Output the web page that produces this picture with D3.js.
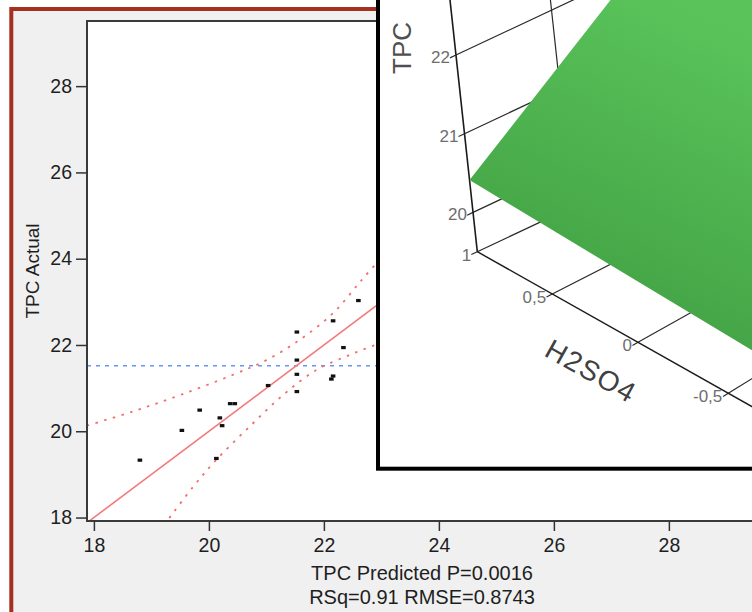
<!DOCTYPE html>
<html>
<head>
<meta charset="utf-8">
<script src="https://cdn.jsdelivr.net/npm/d3@7"></script>
<style>
  body { margin: 0; background: #fff; }
  text { font-family: "Liberation Sans", Arial, sans-serif; }
</style>
</head>
<body>
<script>
// 实际值 vs 预测值
const predicted = [18.80, 19.53, 19.84, 20.13, 20.19, 20.23, 20.37, 20.45, 21.03,
                   21.53, 21.53, 21.53, 21.53, 22.16, 22.34, 22.13, 22.16, 22.60];
const actual    = [19.33, 20.02, 20.49, 19.37, 20.31, 20.13, 20.64, 20.64, 21.06,
                   22.30, 21.65, 21.32, 20.92, 22.56, 21.94, 21.21, 21.28, 23.03];
const meanActual = 21.52;

// 置信曲线（读图取点）
const upperPred = [17.88, 18.68, 19.50, 20.42, 21.00, 21.58, 22.16, 22.66, 23.05];
const upperAct  = [20.13, 20.46, 20.84, 21.31, 21.65, 22.12, 22.74, 23.51, 24.10];
const lowerPred = [19.22, 19.29, 19.73, 20.13, 20.71, 21.29, 21.87, 22.45, 22.89, 23.05];
const lowerAct  = [17.82, 17.95, 18.72, 19.34, 20.11, 20.84, 21.42, 21.77, 22.00, 22.08];

const xTicks = [18, 20, 22, 24, 26, 28];
const yTicks = [18, 20, 22, 24, 26, 28];
const xTitle = 'TPC Predicted P=0.0016';
const statsLine = 'RSq=0.91 RMSE=0.8743';
const yTitle = 'TPC Actual';

// 三维曲面插图
const tpcTicks = [20, 21, 22];
const h2so4Ticks = [1, 0.5, 0, -0.5];
const h2so4Labels = ['1', '0,5', '0', '-0,5'];
const depthGrid = [0.048];
const surfaceH = [1, -0.7, -0.7, 1];
const surfaceDepth = [0, 0, 0.2, 0.2];
const surfaceTPC = [20.41, 20.26, 23.85, 24.0];

const width = 752;
const height = 612;
const plot = {left: 87, top: 21, right: 758, bottom: 521};

const svg = d3.select('body').append('svg')
    .attr('width', width)
    .attr('height', height);

// 外框
svg.append('rect')
    .attr('x', 11.3).attr('y', 9)
    .attr('width', 800).attr('height', 700)
    .attr('fill', '#f0f0f0')
    .attr('stroke', '#a5301f')
    .attr('stroke-width', 4);

const x = d3.scaleLinear().domain([17.88, 29.55]).range([plot.left, plot.right]);
const y = d3.scaleLinear().domain([17.92, 29.51]).range([plot.bottom, plot.top]);

svg.append('rect')
    .attr('x', plot.left).attr('y', plot.top)
    .attr('width', plot.right - plot.left + 20)
    .attr('height', plot.bottom - plot.top)
    .attr('fill', '#fff')
    .attr('stroke', '#3a3a3a')
    .attr('stroke-width', 2);

svg.append('clipPath').attr('id', 'plotclip')
    .append('rect')
    .attr('x', plot.left + 1).attr('y', plot.top + 1)
    .attr('width', plot.right - plot.left)
    .attr('height', plot.bottom - plot.top - 2);

const g = svg.append('g').attr('clip-path', 'url(#plotclip)');

// 均值线
g.append('line')
    .attr('x1', plot.left).attr('x2', plot.right)
    .attr('y1', y(meanActual)).attr('y2', y(meanActual))
    .attr('stroke', '#6496f2')
    .attr('stroke-width', 1.6)
    .attr('stroke-dasharray', '4,5');

// 拟合线 y = x
g.append('line')
    .attr('x1', x(17)).attr('y1', y(17))
    .attr('x2', x(30)).attr('y2', y(30))
    .attr('stroke', '#f37a7a')
    .attr('stroke-width', 1.6);

const curve = d3.line()
    .x(d => x(d[0]))
    .y(d => y(d[1]))
    .curve(d3.curveCatmullRom);

[[upperPred, upperAct], [lowerPred, lowerAct]].forEach(([px, py]) => {
    g.append('path')
        .attr('d', curve(px.map((v, i) => [v, py[i]])))
        .attr('fill', 'none')
        .attr('stroke', '#f26d6d')
        .attr('stroke-width', 1.8)
        .attr('stroke-dasharray', '2.5,6.5');
});

g.selectAll('rect.pt')
    .data(predicted.map((v, i) => [v, actual[i]]))
    .enter().append('rect')
    .attr('class', 'pt')
    .attr('x', d => x(d[0]) - 2.3)
    .attr('y', d => y(d[1]) - 1.6)
    .attr('width', 4.6)
    .attr('height', 3.2)
    .attr('fill', '#111');

// 坐标轴
const yAxis = svg.append('g')
    .attr('transform', `translate(${plot.left},0)`)
    .call(d3.axisLeft(y).tickValues(yTicks).tickSize(11).tickPadding(4));
const xAxis = svg.append('g')
    .attr('transform', `translate(0,${plot.bottom})`)
    .call(d3.axisBottom(x).tickValues(xTicks).tickSize(10).tickPadding(7));
[xAxis, yAxis].forEach(a => {
    a.select('.domain').remove();
    a.selectAll('line').attr('stroke', '#333').attr('stroke-width', 1.5);
    a.selectAll('text').attr('font-size', 19.5).attr('fill', '#1e1e1e')
        .style('font-family', '"Liberation Sans", Arial, sans-serif');
});

svg.append('text')
    .attr('transform', 'translate(39,271) rotate(-90)')
    .attr('text-anchor', 'middle')
    .attr('font-size', 19)
    .attr('fill', '#1e1e1e')
    .text(yTitle);
svg.append('text')
    .attr('x', 422).attr('y', 580)
    .attr('text-anchor', 'middle')
    .attr('font-size', 20)
    .attr('fill', '#1e1e1e')
    .text(xTitle);
svg.append('text')
    .attr('x', 422).attr('y', 604)
    .attr('text-anchor', 'middle')
    .attr('font-size', 20)
    .attr('fill', '#1e1e1e')
    .text(statsLine);

// ---------- 三维曲面插图 ----------
const inset = svg.append('g');
inset.append('rect')
    .attr('x', 378).attr('y', -10)
    .attr('width', 420).attr('height', 478.7)
    .attr('fill', '#fff')
    .attr('stroke', '#000')
    .attr('stroke-width', 4);
svg.append('clipPath').attr('id', 'insetclip')
    .append('rect')
    .attr('x', 380).attr('y', -10)
    .attr('width', 400).attr('height', 476.7);
const ig = inset.append('g').attr('clip-path', 'url(#insetclip)');

// 简易透视投影
const corner = [477.3, 251.7];
const hEnd = [728.3, 393.3];
const zTop = [450, 0];
const vp = [2468, -684];
const hFrac = d3.scalePow().exponent(1.1).domain([0, 1.5]).range([0, 1]);
const zFrac = d3.scaleLinear().domain([19.5, 22.7]).range([0, 1]);
function project(h, z, d = 0) {
    const a = hFrac(1 - h), b = zFrac(z);
    const bx = corner[0] + a * (hEnd[0] - corner[0]);
    const by = corner[1] + a * (hEnd[1] - corner[1]);
    const px = bx + d * (vp[0] - bx);
    const py = by + d * (vp[1] - by);
    return [px + b * (zTop[0] - corner[0]), py + b * (zTop[1] - corner[1])];
}
const seg = (p, q, w, c) => ig.append('line')
    .attr('x1', p[0]).attr('y1', p[1])
    .attr('x2', q[0]).attr('y2', q[1])
    .attr('stroke', c || '#2a2a2a')
    .attr('stroke-width', w || 1.2);

// 网格线（朝向消失点）
tpcTicks.forEach(t => {
    seg(project(1, t, 0), project(1, t, 0.3));
    seg(project(1, t, -0.003), project(1, t, 0), 1.2);
});
h2so4Ticks.forEach(h => {
    seg(project(h, 19.5, 0), project(h, 19.5, 0.3));
    seg(project(h, 19.5, -0.003), project(h, 19.5, 0), 1.2);
});
depthGrid.forEach(d => seg(project(1, 19.5, d), project(1, 23.2, d)));

// 轴线
seg(project(1, 19.5), project(1, 23.2), 1.6, '#1a1a1a');
seg(project(1, 19.5), project(-0.8, 19.5), 1.4, '#1a1a1a');

// 曲面
const defs = svg.append('defs');
const grad = defs.append('linearGradient')
    .attr('id', 'surf')
    .attr('gradientUnits', 'userSpaceOnUse')
    .attr('x1', 720).attr('y1', 20)
    .attr('x2', 560).attr('y2', 360);
grad.append('stop').attr('offset', 0).attr('stop-color', '#5ac45a');
grad.append('stop').attr('offset', 1).attr('stop-color', '#3f9c41');

ig.append('path')
    .attr('d', d3.line()(surfaceH.map((h, i) => project(h, surfaceTPC[i], surfaceDepth[i]))) + 'Z')
    .attr('fill', 'url(#surf)');

// 刻度标签
tpcTicks.forEach(t => {
    const p = project(1, t);
    ig.append('text')
        .attr('x', p[0] - 6).attr('y', p[1] + 8)
        .attr('text-anchor', 'end')
        .attr('font-size', 17)
        .attr('fill', '#6e6e6e')
        .text(t);
});
h2so4Ticks.forEach((h, i) => {
    const p = project(h, 19.5);
    ig.append('text')
        .attr('x', p[0] - 6).attr('y', p[1] + 9)
        .attr('text-anchor', 'end')
        .attr('font-size', 17)
        .attr('fill', '#6e6e6e')
        .text(h2so4Labels[i]);
});

ig.append('text')
    .attr('transform', 'translate(411,48) rotate(-90)')
    .attr('text-anchor', 'middle')
    .attr('font-size', 26)
    .attr('fill', '#505050')
    .text('TPC');
ig.append('text')
    .attr('transform', 'translate(590,373) rotate(29.3)')
    .attr('text-anchor', 'middle')
    .attr('dominant-baseline', 'middle')
    .attr('font-size', 28)
    .attr('letter-spacing', 1.5)
    .attr('fill', '#404040')
    .text('H2SO4');
</script>
</body>
</html>
